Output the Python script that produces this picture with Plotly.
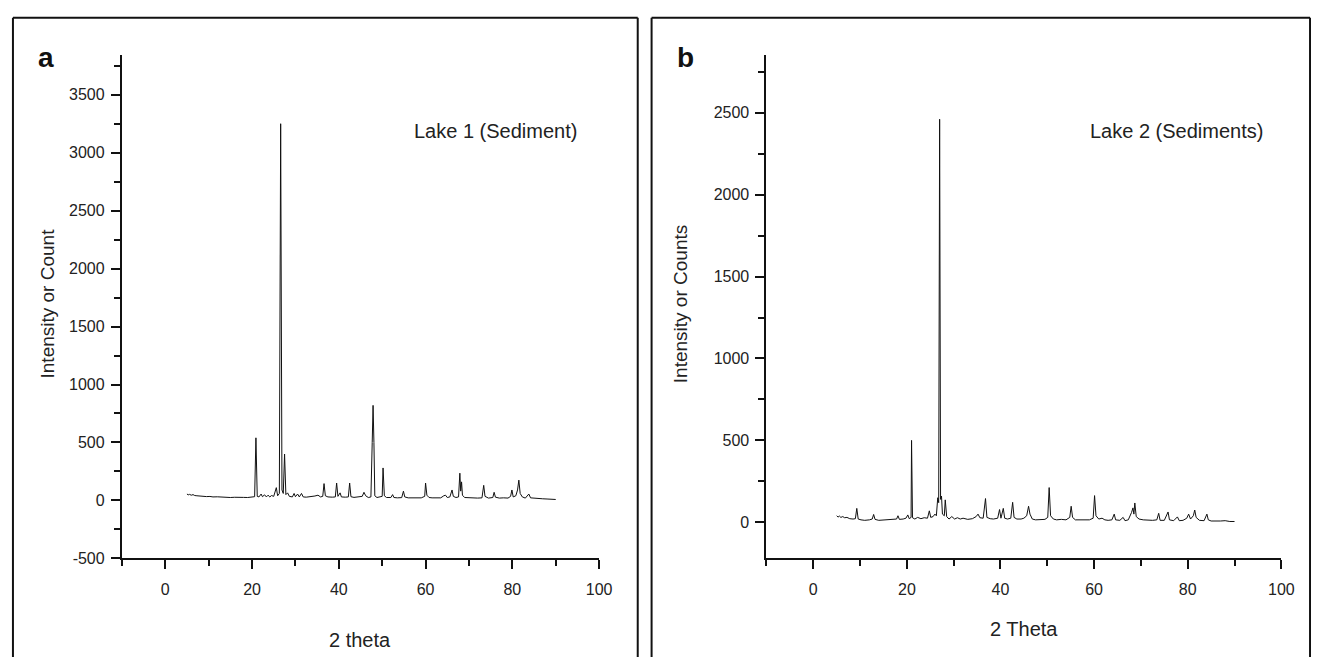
import plotly.graph_objects as go

# ---------------- data ----------------
# Panel a: Lake 1 (Sediment)
theta_a = [5.0, 5.3, 5.6, 6.0, 6.4, 6.8, 7.3, 8.0, 8.7, 9.5, 10.3, 11.0, 12.0, 13.0, 14.0, 15.0, 16.0, 17.0, 18.0, 19.0,
           20.0, 20.6, 20.9, 21.2, 21.6, 22.1, 22.4, 22.9, 23.3, 23.7, 24.1, 24.5, 25.0, 25.6, 25.9, 26.3, 26.6, 26.9,
           27.2, 27.5, 27.8, 28.2, 28.6, 29.3, 29.7, 30.0, 30.5, 30.9, 31.4, 31.8, 32.5, 33.5, 34.5, 35.2, 35.8, 36.3,
           36.6, 36.9, 37.5, 38.5, 39.2, 39.5, 39.8, 40.3, 40.6, 41.5, 42.2, 42.5, 42.8, 43.5, 44.5, 45.4, 45.8, 46.2,
           46.8, 47.4, 47.7, 47.9, 48.1, 48.3, 48.8, 49.5, 50.0, 50.2, 50.5, 51.0, 52.0, 52.4, 52.7, 53.5, 54.5, 54.9,
           55.2, 56.0, 57.0, 58.0, 59.0, 59.8, 60.0, 60.3, 60.8, 61.5, 62.5, 63.5, 64.2, 64.6, 65.0, 65.6, 66.1, 66.4,
           67.0, 67.6, 67.9, 68.1, 68.3, 68.5, 69.0, 70.0, 71.0, 72.0, 73.0, 73.4, 73.7, 74.5, 75.5, 75.8, 76.1, 77.0,
           78.0, 79.0, 79.6, 79.9, 80.2, 80.8, 81.2, 81.5, 81.8, 82.3, 83.0, 83.8, 84.2, 85.0, 86.0, 87.0, 88.0, 89.0,
           90.0]
counts_a = [55, 48, 52, 45, 50, 42, 40, 36, 38, 33, 34, 30, 31, 28, 29, 25, 27, 24, 26, 25,
            28, 32, 540, 35, 30, 55, 32, 48, 30, 45, 30, 42, 35, 110, 40, 60, 3250, 90,
            60, 400, 50, 65, 35, 30, 60, 32, 55, 30, 60, 30, 28, 30, 38, 45, 30, 35,
            145, 40, 30, 28, 30, 150, 35, 65, 30, 28, 30, 150, 32, 26, 28, 35, 70, 40,
            25, 30, 500, 820, 500, 40, 25, 28, 35, 280, 40, 25, 25, 50, 25, 22, 24, 80,
            30, 22, 22, 20, 22, 35, 150, 45, 25, 22, 20, 22, 40, 45, 25, 30, 90, 35,
            25, 30, 235, 80, 160, 45, 25, 22, 20, 20, 22, 130, 35, 20, 25, 70, 28, 20,
            22, 20, 35, 90, 30, 40, 90, 175, 60, 30, 20, 55, 22, 18, 15, 14, 12, 10,
            8]

# Panel b: Lake 2 (Sediments)
theta_b = [5.0, 5.3, 5.6, 5.9, 6.3, 6.7, 7.2, 7.8, 8.5, 9.0, 9.3, 9.6, 10.2, 11.0, 12.0, 12.6, 12.9, 13.2, 14.0, 15.0,
           16.0, 17.0, 17.8, 18.1, 18.4, 19.2, 19.8, 20.2, 20.5, 20.9, 21.0, 21.2, 21.7, 22.3, 23.0, 23.7, 24.4, 24.8,
           25.1, 25.6, 26.0, 26.3, 26.6, 26.8, 27.0, 27.2, 27.4, 27.6, 28.0, 28.2, 28.5, 29.0, 29.6, 30.2, 30.8, 31.4,
           32.0, 33.0, 34.0, 34.8, 35.2, 35.6, 36.3, 36.8, 37.1, 37.8, 38.5, 39.4, 39.8, 40.1, 40.6, 40.9, 41.5, 42.2,
           42.6, 42.9, 43.5, 44.4, 45.0, 45.6, 46.0, 46.3, 46.8, 47.5, 48.5, 49.5, 50.1, 50.4, 50.7, 51.3, 52.0, 53.0,
           54.0, 54.8, 55.1, 55.4, 56.0, 57.0, 58.0, 59.0, 59.8, 60.1, 60.4, 61.0, 61.7, 62.3, 63.0, 63.8, 64.3, 64.6,
           65.5, 66.2, 66.6, 67.3, 68.0, 68.3, 68.5, 68.7, 69.0, 69.6, 70.5, 71.5, 72.5, 73.4, 73.8, 74.1, 75.0, 75.8,
           76.1, 77.0, 77.8, 78.2, 79.0, 79.8, 80.2, 80.6, 81.2, 81.5, 81.8, 82.5, 83.5, 84.1, 84.4, 85.0, 86.0, 87.0,
           88.0, 89.0, 90.0]
counts_b = [40, 32, 38, 30, 35, 28, 30, 22, 20, 22, 85, 20, 15, 12, 15, 20, 48, 18, 12, 14,
            12, 15, 20, 40, 18, 20, 25, 45, 22, 30, 500, 28, 20, 30, 22, 28, 25, 70,
            30, 35, 50, 40, 150, 120, 2460, 140, 160, 50, 40, 137, 35, 20, 35, 20, 28, 20,
            25, 18, 22, 35, 50, 28, 25, 145, 30, 22, 20, 25, 78, 25, 85, 25, 20, 25,
            122, 30, 20, 20, 25, 40, 98, 50, 20, 15, 15, 18, 30, 212, 40, 20, 15, 18,
            15, 30, 98, 30, 15, 15, 12, 15, 25, 163, 40, 20, 25, 15, 12, 15, 50, 15,
            12, 30, 10, 15, 60, 88, 50, 118, 35, 20, 15, 12, 12, 15, 55, 12, 12, 63,
            15, 10, 33, 10, 12, 25, 50, 20, 40, 75, 30, 12, 10, 50, 15, 8, 6, 8,
            10, 5, 5]

x_tickvals = [0, 20, 40, 60, 80, 100]
x_ticktext = ["0", "20", "40", "60", "80", "100"]
ya_tickvals = [-500, 0, 500, 1000, 1500, 2000, 2500, 3000, 3500]
ya_ticktext = ["-500", "0", "500", "1000", "1500", "2000", "2500", "3000", "3500"]
yb_tickvals = [0, 500, 1000, 1500, 2000, 2500]
yb_ticktext = ["0", "500", "1000", "1500", "2000", "2500"]

# ---------------- layout helpers ----------------
W, H = 1319, 657


def px(x):
    return x / W


def py(y):
    return 1 - y / H


FONT = "Arial, Liberation Sans, sans-serif"
TXT = "#222222"

fig = go.Figure()
fig.add_trace(go.Scatter(x=theta_a, y=counts_a, mode="lines",
                         line=dict(color="#111111", width=1), xaxis="x", yaxis="y",
                         showlegend=False, hoverinfo="skip"))
fig.add_trace(go.Scatter(x=theta_b, y=counts_b, mode="lines",
                         line=dict(color="#111111", width=1), xaxis="x2", yaxis="y2",
                         showlegend=False, hoverinfo="skip"))

plot_top, plot_bot = 48, 558


def xaxis_cfg(x0, x1, anchor):
    return dict(domain=[px(x0), px(x1)], anchor=anchor, range=[-10, 100],
                tickmode="array", tickvals=x_tickvals, ticktext=x_ticktext,
                showline=True, linecolor="#111111", linewidth=2,
                ticks="outside", ticklen=9, tickwidth=2, tickcolor="#111111",
                minor=dict(ticks="outside", ticklen=6, tickwidth=1.5, tickcolor="#111111",
                           tickmode="array", tickvals=[-10, 10, 30, 50, 70, 90]),
                showgrid=False, zeroline=False, ticklabelstandoff=6,
                tickfont=dict(family=FONT, size=16, color=TXT), fixedrange=True)


def yaxis_cfg(anchor, rng, tv, tt, minor_vals):
    return dict(domain=[py(plot_bot), py(plot_top)], anchor=anchor, range=rng,
                tickmode="array", tickvals=tv, ticktext=tt,
                showline=True, linecolor="#111111", linewidth=2,
                ticks="outside", ticklen=9, tickwidth=2, tickcolor="#111111",
                minor=dict(ticks="outside", ticklen=6, tickwidth=1.5, tickcolor="#111111",
                           tickmode="array", tickvals=minor_vals),
                showgrid=False, zeroline=False, ticklabelstandoff=3,
                tickfont=dict(family=FONT, size=16, color=TXT), fixedrange=True)


fig.update_layout(
    width=W, height=H,
    margin=dict(l=0, r=0, t=0, b=0),
    paper_bgcolor="white", plot_bgcolor="white",
    xaxis=xaxis_cfg(115, 597, "y"),
    yaxis=yaxis_cfg("x", [-500, 3840], ya_tickvals, ya_ticktext,
                    [-250, 250, 750, 1250, 1750, 2250, 2750, 3250, 3750]),
    xaxis2=xaxis_cfg(766, 1286, "y2"),
    yaxis2=yaxis_cfg("x2", [-220, 2850], yb_tickvals, yb_ticktext,
                     [250, 750, 1250, 1750, 2250, 2750]),
)

# panel frames (open at the bottom)
shapes = []
for (l, r) in [(5, 636), (650, 1315)]:
    shapes.append(dict(type="line", xref="paper", yref="paper", x0=px(l), x1=px(r), y0=py(10), y1=py(10),
                       line=dict(color="#111111", width=2)))
    for xx in (l, r):
        shapes.append(dict(type="line", xref="paper", yref="paper", x0=px(xx), x1=px(xx), y0=py(10), y1=py(H + 5),
                           line=dict(color="#111111", width=2)))
fig.update_layout(shapes=shapes)

ann = []


def text(x, y, s, size, bold=False, angle=0):
    ann.append(dict(x=px(x), y=py(y), xref="paper", yref="paper", text=("<b>%s</b>" % s) if bold else s,
                    showarrow=False, xanchor="center", yanchor="middle", textangle=angle,
                    font=dict(family=FONT, size=size, color=TXT if not bold else "#111111")))


text(38, 50, "a", 28, bold=True)
text(684, 50, "b", 28, bold=True)
text(492, 125, "Lake 1 (Sediment)", 20)
text(1180, 125, "Lake 2 (Sediments)", 20)
text(40, 300, "Intensity or Count", 19, angle=-90)
text(680, 300, "Intensity or Counts", 19, angle=-90)
text(356, 641, "2 theta", 20)
text(1026, 630, "2 Theta", 20)
fig.update_layout(annotations=ann)

fig.write_html("out.html")
